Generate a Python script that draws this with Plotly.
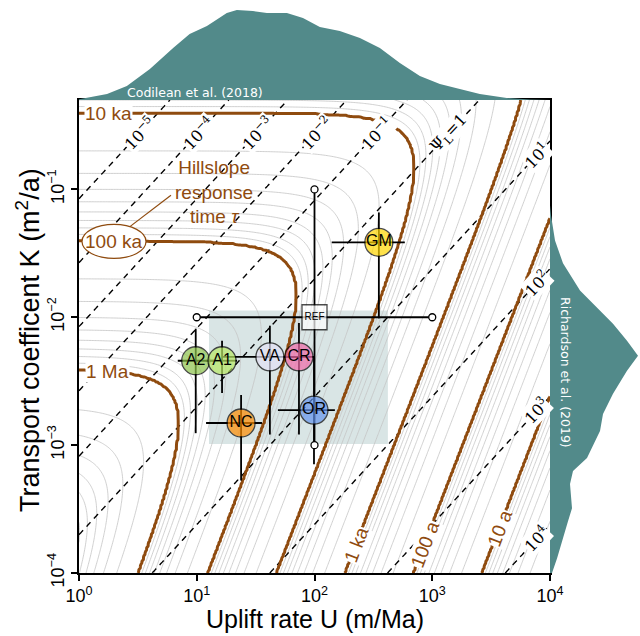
import numpy as np
import plotly.graph_objects as go

# ---------------- data ----------------
site_names = ["REF", "GM", "A2", "A1", "VA", "CR", "OR", "NC"]
site_U = [100, 352, 9.8, 16.4, 41.8, 73.8, 99, 23.8]            # m/Ma
site_K = [0.01, 0.0385, 0.00457, 0.00457, 0.0049, 0.0049, 0.00188, 0.00149]  # m2/a
site_U_lo = [10, 140, 6.9, 12.0, 16.4, 55, 48.9, 12.0]
site_U_hi = [1000, 585, 14, 22, 75, 100, 149, 35.8]
site_K_lo = [0.001, 0.0098, 0.00124, 0.00256, 0.00121, 0.00121, 0.00071, 0.00053]
site_K_hi = [0.1, 0.066, 0.00814, 0.00656, 0.00859, 0.009, 0.0049, 0.00247]
site_colors = ["white", "#ffd700", "#8cc34b", "#b8e864", "#e4e2f5", "#f06aa8", "#6495ed", "#ff8c00"]

box_U = [12.7, 420]
box_K = [0.00102, 0.0113]

# marginal densities (arbitrary units)
codilean_U = [0.92, 1.73, 2.55, 4.0, 6.3, 8.7, 12.2, 18.0, 21.9, 30.0, 39.4, 58.3, 79.8,
              111, 164, 243, 359, 531, 785, 1161, 1714, 2535, 4295, 6745, 9950]
codilean_density = [0, 6, 14, 31, 52, 66, 74, 87, 90, 89, 87, 87, 82,
                    73, 69, 62, 52, 37, 24, 16, 11, 6, 2, 0.5, 0]
richardson_K = [0.0751, 0.0627, 0.0399, 0.0264, 0.0162, 0.0119, 0.00891, 0.00656, 0.0050,
                0.00381, 0.00252, 0.00175, 0.00129, 0.000793, 0.000627, 0.000496,
                0.000321, 0.000254, 0.000187, 0.000130, 0.0001]
richardson_density = [0, 1, 5, 13, 30, 47, 63, 77, 88, 77, 63, 53, 50, 37, 23, 20, 22, 18, 13, 7, 2]

# response-time model (years) and Psi_L model
TAU_LIN = 4000.0
X_TAU = 10 ** 3.586
P_TAU = 1.72
N_TAU = 1.5
X_PSI = 10 ** 3.573
C_PSI = 0.897

brown_levels_text = ["10 a", "100 a", "1 ka"]
brown_levels = [10, 100, 1000]
psi_exponents = [-5, -4, -3, -2, -1, 0, 1, 2, 3, 4]

BROWN = "#8f4b0f"
TEAL = "#528a8a"
GREY = "#c4c4c4"

U_RANGE = [0.0, 4.0]
K_RANGE = [-4.0, float(np.log10(0.5))]


def tau_model(U, K):
    u = U / (K * X_TAU)
    return TAU_LIN / K * (1.0 + u ** N_TAU) ** (-P_TAU / N_TAU)


def psi_model(U, K):
    v = U / (K * X_PSI)
    return v ** 2 / np.sqrt(1.0 + (v / C_PSI) ** 2)


def U_on_tau(level, K):
    lo, hi = -1.0, 6.0
    for _ in range(60):
        mid = 0.5 * (lo + hi)
        if tau_model(10 ** mid, K) > level:
            lo = mid
        else:
            hi = mid
    return 10 ** mid


def U_on_psi(level, K):
    w = (level ** 2 / C_PSI ** 2 + np.sqrt(level ** 4 / C_PSI ** 4 + 4 * level ** 2)) / 2
    return K * X_PSI * np.sqrt(w)


# ---------------- grids ----------------
lu = np.linspace(U_RANGE[0], U_RANGE[1], 301)
lk = np.linspace(K_RANGE[0], K_RANGE[1], 281)
Ug = 10 ** lu
Kg = 10 ** lk
UU, KK = np.meshgrid(Ug, Kg)
tau = tau_model(UU, KK)
dec = np.floor(np.log10(tau))
Z = 9 * dec + tau / 10 ** dec - 1.0   # integer at n*10^k
LP = np.log10(psi_model(UU, KK))

fig = go.Figure()

fig.add_trace(go.Contour(
    x=Ug, y=Kg, z=np.round(Z, 4), autocontour=False,
    contours=dict(start=0, end=72, size=1, coloring="none"),
    line=dict(color=GREY, width=0.8), showscale=False, hoverinfo="skip"))

fig.add_trace(go.Contour(
    x=Ug, y=Kg, z=np.round(LP, 4), autocontour=False,
    contours=dict(start=-5, end=4, size=1, coloring="none"),
    line=dict(color="black", width=1.4, dash="6px,5px"), showscale=False, hoverinfo="skip"))

fig.add_trace(go.Contour(
    x=Ug, y=Kg, z=np.round(Z, 4), autocontour=False,
    contours=dict(start=9, end=54, size=9, coloring="none"),
    line=dict(color=BROWN, width=3), showscale=False, hoverinfo="skip"))

# marginal densities
fig.add_trace(go.Scatter(x=codilean_U, y=codilean_density, xaxis="x", yaxis="y2",
                         mode="lines", fill="tozeroy", line=dict(color=TEAL, width=0),
                         fillcolor=TEAL, hoverinfo="skip"))
fig.add_trace(go.Scatter(x=richardson_density, y=richardson_K, xaxis="x3", yaxis="y",
                         mode="lines", fill="tozerox", line=dict(color=TEAL, width=0),
                         fillcolor=TEAL, hoverinfo="skip"))

# sites
sizes = [25 if n == "REF" else 28 for n in site_names]
symbols = ["square" if n == "REF" else "circle" for n in site_names]
tsizes = [10 if n == "REF" else 16 for n in site_names]
fig.add_trace(go.Scatter(
    x=site_U, y=site_K, mode="markers+text", text=site_names, textposition="middle center",
    textfont=dict(size=tsizes, color="black", family="Liberation Sans"),
    marker=dict(size=sizes, color=site_colors, symbol=symbols, line=dict(color="black", width=1.3)),
    error_x=dict(type="data", symmetric=False,
                 array=[h - u for h, u in zip(site_U_hi, site_U)],
                 arrayminus=[u - l for u, l in zip(site_U, site_U_lo)],
                 color="black", thickness=1.8, width=0),
    error_y=dict(type="data", symmetric=False,
                 array=[h - k for h, k in zip(site_K_hi, site_K)],
                 arrayminus=[k - l for k, l in zip(site_K, site_K_lo)],
                 color="black", thickness=1.8, width=0),
    hoverinfo="skip"))
# REF bar caps
fig.add_trace(go.Scatter(
    x=[site_U_lo[0], site_U_hi[0], site_U[0], site_U[0]],
    y=[site_K[0], site_K[0], site_K_lo[0], site_K_hi[0]],
    mode="markers", marker=dict(size=7, color="white", line=dict(color="black", width=1.3)),
    hoverinfo="skip"))

# ---------------- layout ----------------
W, H = 640, 636
L, B = 79, 63
PW, PH = W - L, H - B          # plotting area 561 x 573
XDOM = 471 / PW
YDOM = 473 / PH


def px(x, y):
    return (x - L) / PW, (PH - y) / PH


def paper_x(logU):
    return (logU - U_RANGE[0]) / (U_RANGE[1] - U_RANGE[0]) * XDOM


def paper_y(logK):
    return (logK - K_RANGE[0]) / (K_RANGE[1] - K_RANGE[0]) * YDOM


axis_style = dict(showline=True, linecolor="black", linewidth=1.6, mirror=True,
                  ticks="outside", ticklen=6, tickwidth=1.6, tickcolor="black",
                  showgrid=False, zeroline=False, automargin=False,
                  tickfont=dict(size=18, family="Liberation Sans", color="black"))

fig.update_layout(
    width=W, height=H, margin=dict(l=L, r=0, t=0, b=B),
    paper_bgcolor="white", plot_bgcolor="white", showlegend=False,
    font=dict(family="Liberation Sans", color="black"),
    xaxis=dict(type="log", range=U_RANGE, domain=[0, XDOM], anchor="y",
               tickvals=[1, 10, 100, 1000, 10000],
               ticktext=["10<sup>0</sup>", "10<sup>1</sup>", "10<sup>2</sup>", "10<sup>3</sup>", "10<sup>4</sup>"],
               **axis_style),
    yaxis=dict(type="log", range=K_RANGE, domain=[0, YDOM], anchor="x",
               tickvals=[1e-4, 1e-3, 1e-2, 1e-1], tickangle=-90,
               ticktext=["10<sup>−4</sup>", "10<sup>−3</sup>", "10<sup>−2</sup>", "10<sup>−1</sup>"],
               **axis_style),
    yaxis2=dict(domain=[YDOM, 1], range=[0, 100], anchor="x", visible=False),
    xaxis3=dict(domain=[XDOM, 1], range=[0, 90], anchor="y", visible=False),
)

shapes = []
shapes.append(dict(type="rect", xref="paper", yref="paper", layer="below",
                   x0=paper_x(np.log10(box_U[0])), x1=paper_x(np.log10(box_U[1])),
                   y0=paper_y(np.log10(box_K[0])), y1=paper_y(np.log10(box_K[1])),
                   fillcolor="#d9e5e5", line=dict(width=0)))
shapes.append(dict(type="line", xref="paper", yref="paper",
                   x0=paper_x(0.424), y0=paper_y(-1.297), x1=paper_x(0.781), y1=paper_y(-1.046),
                   line=dict(color=BROWN, width=1.2)))
shapes.append(dict(type="circle", xref="paper", yref="paper",
                   x0=paper_x(0.0255), x1=paper_x(0.569), y0=paper_y(-1.540), y1=paper_y(-1.274),
                   fillcolor="white", line=dict(color=BROWN, width=1.2)))
fig.update_layout(shapes=shapes)

ann = []


def add_text(text, x, y, size, color, angle=0, bg=None, family="Liberation Sans", xref="x", yref="y"):
    d = dict(text=text, x=x, y=y, xref=xref, yref=yref, showarrow=False, textangle=angle,
             xanchor="center", yanchor="middle",
             font=dict(size=size, color=color, family=family), borderpad=0)
    if bg:
        d["bgcolor"] = bg
    ann.append(d)


# axis titles
xx, yy = px(315, 619)
add_text("Uplift rate U (m/Ma)", xx, yy, 25, "black", xref="paper", yref="paper")
xx, yy = px(28, 340)
add_text("Transport coefficent K (m<sup>2</sup>/a)", xx, yy, 27, "black", angle=-90, xref="paper", yref="paper")

# marginal labels
xx, yy = px(195, 92)
add_text("Codilean et al. (2018)", xx, yy, 12.5, "white", family="DejaVu Sans", xref="paper", yref="paper")
xx, yy = px(566, 372)
add_text("Richardson et al. (2019)", xx, yy, 12.5, "white", angle=90, family="DejaVu Sans", xref="paper", yref="paper")

# response-time labels (left)
add_text("10 ka", np.log10(1.78), np.log10(0.395), 19, BROWN, bg="white")
add_text("100 ka", np.log10(1.95), np.log10(0.0393), 19, BROWN)
add_text("1 Ma", np.log10(1.75), np.log10(0.00374), 19, BROWN, bg="white")
add_text("Hillslope<br>response<br>time <i>τ</i>", np.log10(14.0), np.log10(0.0955), 19, BROWN)

# response-time labels (right)
for txt, lev, kpos in zip(brown_levels_text[::-1], brown_levels[::-1], [1.675e-4, 1.675e-4, 2.24e-4]):
    add_text(txt, np.log10(U_on_tau(lev, kpos)), np.log10(kpos), 19, BROWN, angle=-69, bg="white")

# Psi labels
K_top = 10 ** (-0.301 - 33 / 127.5)
for e in psi_exponents:
    if e == 0:
        txt = "Ψ<sub>L</sub>=1"
    elif e < 0:
        txt = "10<sup>−%d</sup>" % (-e)
    else:
        txt = "10<sup>%d</sup>" % e
    if e <= 0:
        kpos = K_top
        upos = U_on_psi(10.0 ** e, kpos)
    else:
        upos = 10 ** ((537 - 79) / 117.8)
        lo, hi = -5.0, 0.5
        for _ in range(60):
            mid = 0.5 * (lo + hi)
            if np.log10(psi_model(upos, 10 ** mid)) > e:
                lo = mid
            else:
                hi = mid
        kpos = 10 ** mid
    add_text(txt, np.log10(upos), np.log10(kpos), 16, "black", angle=-47, bg="white", family="DejaVu Serif")

fig.update_layout(annotations=ann)

fig.write_html("out.html")
